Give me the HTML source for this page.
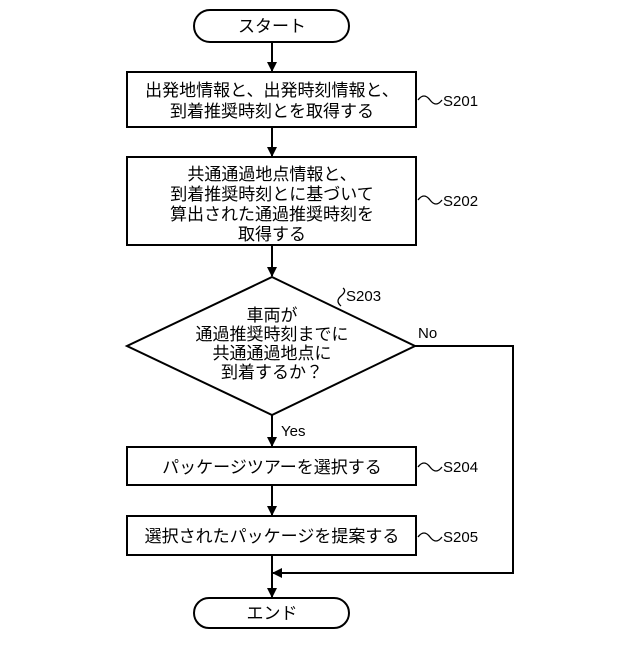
<!DOCTYPE html>
<html><head><meta charset="utf-8"><style>
body{margin:0;background:#fff}
svg text{font-family:"Liberation Sans","Noto Sans CJK JP",sans-serif;fill:#000}
</style></head><body>
<svg width="640" height="640" viewBox="0 0 640 640" xmlns="http://www.w3.org/2000/svg">
<defs><marker id="a" markerWidth="10" markerHeight="10" refX="9" refY="5" orient="auto" markerUnits="userSpaceOnUse"><path d="M0,0 L10,5 L0,10 z" fill="#000"/></marker></defs>
<g stroke="#000" stroke-width="2" fill="none">
<rect x="194" y="10" width="155" height="32" rx="16"/>
<rect x="127" y="72" width="289" height="55"/>
<rect x="127" y="157" width="289" height="88"/>
<polygon points="272,277 415,346 272,415 127,346"/>
<rect x="127" y="447" width="289" height="38"/>
<rect x="127" y="516" width="289" height="39"/>
<rect x="194" y="598" width="155" height="30" rx="15"/>
<line x1="272" y1="42" x2="272" y2="71" marker-end="url(#a)"/>
<line x1="272" y1="127" x2="272" y2="156" marker-end="url(#a)"/>
<line x1="272" y1="245" x2="272" y2="276" marker-end="url(#a)"/>
<line x1="272" y1="415" x2="272" y2="446" marker-end="url(#a)"/>
<line x1="272" y1="485" x2="272" y2="515" marker-end="url(#a)"/>
<line x1="272" y1="555" x2="272" y2="597" marker-end="url(#a)"/>
<polyline points="415,346 513,346 513,573 273,573" marker-end="url(#a)"/>
<path d="M418,100 q6,-8 12,0 t12,0" stroke-width="1.3"/>
<path d="M418,200 q6,-8 12,0 t12,0" stroke-width="1.3"/>
<path d="M418,467 q6,-8 12,0 t12,0" stroke-width="1.3"/>
<path d="M418,537 q6,-8 12,0 t12,0" stroke-width="1.3"/>
<path d="M341,306 q-6,-5 0,-10 t2,-8" stroke-width="1.3"/>
</g>
<g font-size="17" text-anchor="middle">
<text x="272" y="32">スタート</text>
<text x="272" y="96">出発地情報と、出発時刻情報と、</text>
<text x="272" y="117">到着推奨時刻とを取得する</text>
<text x="272" y="180">共通通過地点情報と、</text>
<text x="272" y="200">到着推奨時刻とに基づいて</text>
<text x="272" y="220">算出された通過推奨時刻を</text>
<text x="272" y="240">取得する</text>
<text x="272" y="321">車両が</text>
<text x="272" y="340">通過推奨時刻までに</text>
<text x="272" y="359">共通通過地点に</text>
<text x="272" y="378">到着するか？</text>
<text x="272" y="473">パッケージツアーを選択する</text>
<text x="272" y="542">選択されたパッケージを提案する</text>
<text x="272" y="619">エンド</text>
</g>
<g font-size="15">
<text x="443" y="106">S201</text>
<text x="443" y="206">S202</text>
<text x="346" y="301">S203</text>
<text x="443" y="472">S204</text>
<text x="443" y="542">S205</text>
<text x="418" y="338">No</text>
<text x="281" y="436">Yes</text>
</g>
</svg>
</body></html>
